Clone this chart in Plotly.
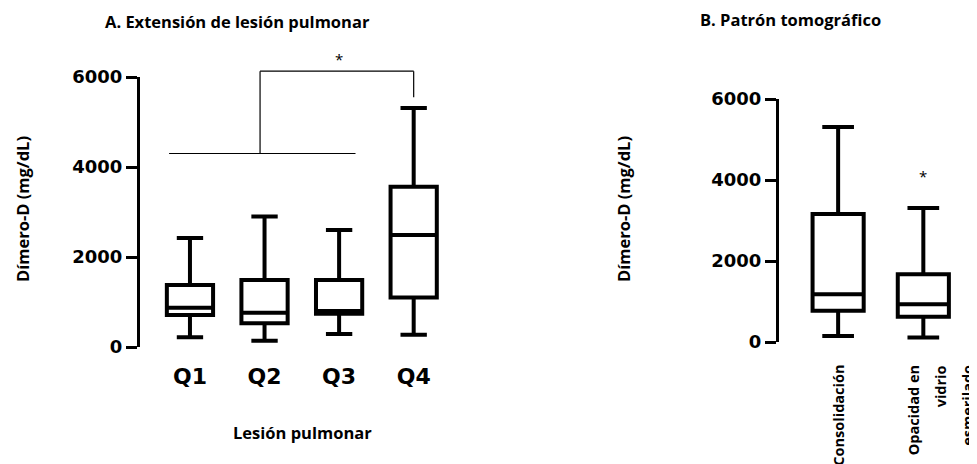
import plotly.graph_objects as go

# ---------------- data ----------------
cats_A = ["Q1", "Q2", "Q3", "Q4"]
lower_A = [215, 140, 290, 270]
q1_A = [710, 530, 740, 1100]
median_A = [870, 760, 800, 2490]
q3_A = [1380, 1490, 1490, 3560]
upper_A = [2420, 2900, 2600, 5310]

cats_B = ["Consolidación", "Opacidad en vidrio esmerilado"]
label_lines_B = [["Consolidación"], ["Opacidad en", "vidrio", "esmerilado"]]
lower_B = [150, 110]
q1_B = [770, 625]
median_B = [1180, 930]
q3_B = [3160, 1670]
upper_B = [5310, 3310]

y_ticks = [0, 2000, 4000, 6000]
y_max = 6000
bracket_low = 4300      # level of the Q1-Q3 bar
bracket_high = 6130     # level of the top bar
bracket_q4_end = 5550   # end of the drop to Q4
star_B_value = 4100

title_A = "A. Extensión de lesión pulmonar"
title_B = "B. Patrón tomográfico"
y_title = "Dímero-D (mg/dL)"
x_title_A = "Lesión pulmonar"

W, H = 977, 464
OFF = 8  # page body margin
TXT = "Open Sans"
NUM = "DejaVu Sans"

fig = go.Figure()

fig.add_trace(go.Box(
    x=cats_A, lowerfence=lower_A, q1=q1_A, median=median_A, q3=q3_A,
    upperfence=upper_A, xaxis="x", yaxis="y",
    fillcolor="white", line=dict(color="black", width=4),
    width=0.62, whiskerwidth=0.57, boxpoints=False, showlegend=False,
    hoverinfo="skip",
))
fig.add_trace(go.Box(
    x=[0, 1], lowerfence=lower_B, q1=q1_B, median=median_B, q3=q3_B,
    upperfence=upper_B, xaxis="x2", yaxis="y2",
    fillcolor="white", line=dict(color="black", width=4),
    width=0.6, whiskerwidth=0.62, boxpoints=False, showlegend=False,
    hoverinfo="skip",
))

# pixel layout helpers (page pixels -> paper fractions)
def px_x(p):
    return (p - OFF) / W

def px_y(p):
    return 1 - (p - OFF) / H

yaxis_common = dict(
    range=[0, y_max], tickvals=y_ticks, ticks="outside", ticklen=11, tickwidth=3,
    tickcolor="black", showline=True, linewidth=3, linecolor="black",
    showgrid=False, zeroline=False, automargin=False,
    tickfont=dict(family=NUM, size=18, color="black", weight="bold"),
)

fig.update_layout(
    template="none",
    width=W, height=H, margin=dict(l=0, r=0, t=0, b=0, pad=0, autoexpand=False),
    paper_bgcolor="white", plot_bgcolor="white",
    xaxis=dict(domain=[px_x(140), px_x(445)], range=[-0.67, 3.42],
               showline=False, showgrid=False, zeroline=False, ticks="",
               ticklabelstandoff=14, automargin=False,
               tickfont=dict(family=NUM, size=22, color="black", weight="bold")),
    yaxis=dict(domain=[px_y(347), px_y(77)], anchor="x", **yaxis_common),
    xaxis2=dict(domain=[px_x(779), px_x(977)], range=[-0.694, 1.63],
                showline=False, showgrid=False, zeroline=False, ticks="",
                showticklabels=False, anchor="y2", automargin=False),
    yaxis2=dict(domain=[px_y(342), px_y(99)], anchor="x2", **yaxis_common),
)

line_style = dict(color="black", width=1.2)
yd = lambda v: v / y_max  # value -> y domain fraction
# significance bracket (panel A)
fig.add_shape(type="line", xref="x", yref="y domain", x0=-0.28, x1=2.22,
              y0=yd(bracket_low), y1=yd(bracket_low), line=line_style)
fig.add_shape(type="line", xref="x", yref="y domain", x0=0.94, x1=0.94,
              y0=yd(bracket_low), y1=yd(bracket_high), line=line_style)
fig.add_shape(type="line", xref="x", yref="y domain", x0=0.94, x1=3,
              y0=yd(bracket_high), y1=yd(bracket_high), line=line_style)
fig.add_shape(type="line", xref="x", yref="y domain", x0=3, x1=3,
              y0=yd(bracket_high), y1=yd(bracket_q4_end), line=line_style)

ann = []
ann.append(dict(text="*", x=2.0, y=yd(bracket_high), xref="x", yref="y domain",
                yanchor="bottom", showarrow=False, yshift=0,
                font=dict(family=TXT, size=15, color="black")))
ann.append(dict(text="*", x=1, y=star_B_value, xref="x2", yref="y2",
                showarrow=False, yanchor="middle",
                font=dict(family=TXT, size=15, color="black")))
# titles
tfont = dict(family=TXT, size=16.5, color="black", weight="bold")
common = dict(xref="paper", yref="paper", showarrow=False, xanchor="center",
              yanchor="middle", font=tfont)
ann.append(dict(text=title_A, x=px_x(237), y=px_y(21), **common))
ann.append(dict(text=title_B, x=px_x(790), y=px_y(20), **common))
# axis titles
ann.append(dict(text=y_title, x=px_x(22), y=px_y(209), textangle=-90, **common))
ann.append(dict(text=y_title, x=px_x(623), y=px_y(209), textangle=-90, **common))
ann.append(dict(text=x_title_A, x=px_x(302), y=px_y(432), **common))
# panel B category labels (rotated)
for i, lines in enumerate(label_lines_B):
    n = len(lines)
    for j, line in enumerate(lines):
        shift = (j - (n - 1) / 2) * 27 + (17 if n > 1 else 0)
        ann.append(dict(text=line, x=i, y=px_y(363), xref="x2", yref="paper",
                        xshift=shift, textangle=-90, yanchor="top", xanchor="center",
                        showarrow=False,
                        font=dict(family=TXT, size=14.5, color="black", weight="bold")))
fig.update_layout(annotations=ann)

fig.write_html("out.html")
